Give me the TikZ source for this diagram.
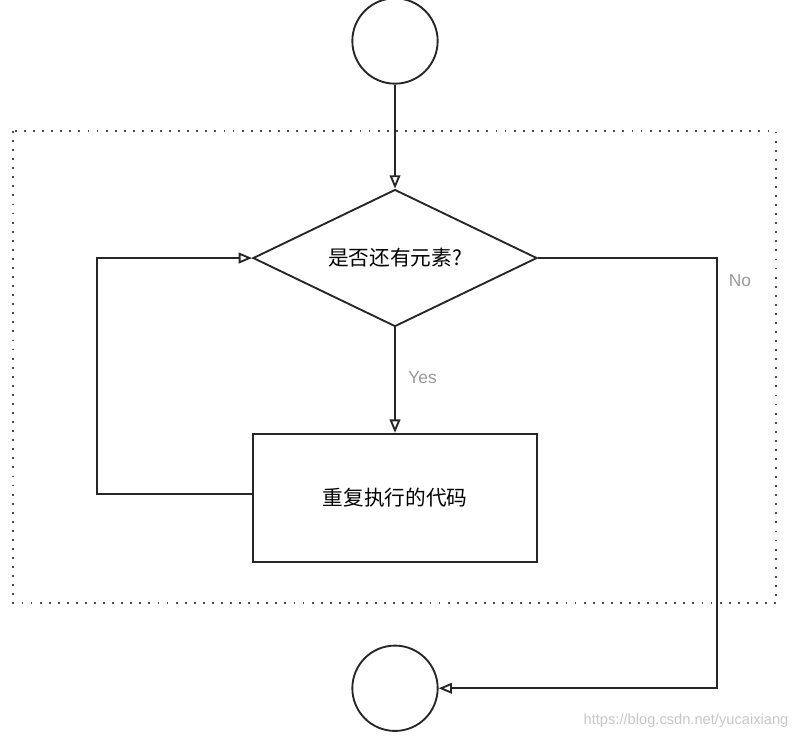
\documentclass[tikz,border=0pt]{standalone}
\usepackage{fontspec}
\setmainfont{Noto Sans CJK SC}
\newfontfamily\latinfont{Liberation Sans}
\usetikzlibrary{arrows.meta,positioning,shapes.geometric}

\begin{document}
\begin{tikzpicture}[
		x=0.75pt, y=-0.75pt,
		line width=1.4pt,
		>={Triangle[open, length=10pt, width=8pt]},
		terminal/.style={draw=black!85, circle, minimum size=64pt, inner sep=0pt},
		decision/.style={draw=black!85, diamond, aspect=2, minimum width=213pt, minimum height=102.75pt, inner sep=0pt, font=\fontsize{15.5}{18}\selectfont},
		block/.style={draw=black!85, rectangle, minimum width=213pt, minimum height=96pt, font=\fontsize{15.5}{18}\selectfont},
		branch/.style={text=black!40, font=\latinfont\fontsize{13}{15}\selectfont},
		link/.style={->, draw=black!85},
	]
		\useasboundingbox (0,0) rectangle (800,739);
		\draw[black!70, line width=1.4pt, dash pattern=on 1.4pt off 5.4pt] (13,131) rectangle (776,603);

		\node (start) [terminal] at (395,41) {};
		\node (cond) [decision, below=78pt of start] {是否还有元素?};
		\node (body) [block, below=79pt of cond] {重复执行的代码};
		\node (stop) [terminal, below=61.5pt of body] {};

		\draw[link] (start) -- (cond);
		\draw[link] (cond) -- (body) node[branch, midway, right=6pt, yshift=2pt] {Yes};
		\draw[link] ([yshift=3pt]body.west) -- ++(-155,0) |- (cond.west);
		\draw[link] (cond.east) -- ++(179,0) node[branch, below right=8pt and 5pt] {No} |- (stop.east);

		\node (mark) [text=black!22, font=\latinfont\fontsize{11}{13}\selectfont] at (686,721) {https://blog.csdn.net/yucaixiang};
	\end{tikzpicture}
\end{document}
